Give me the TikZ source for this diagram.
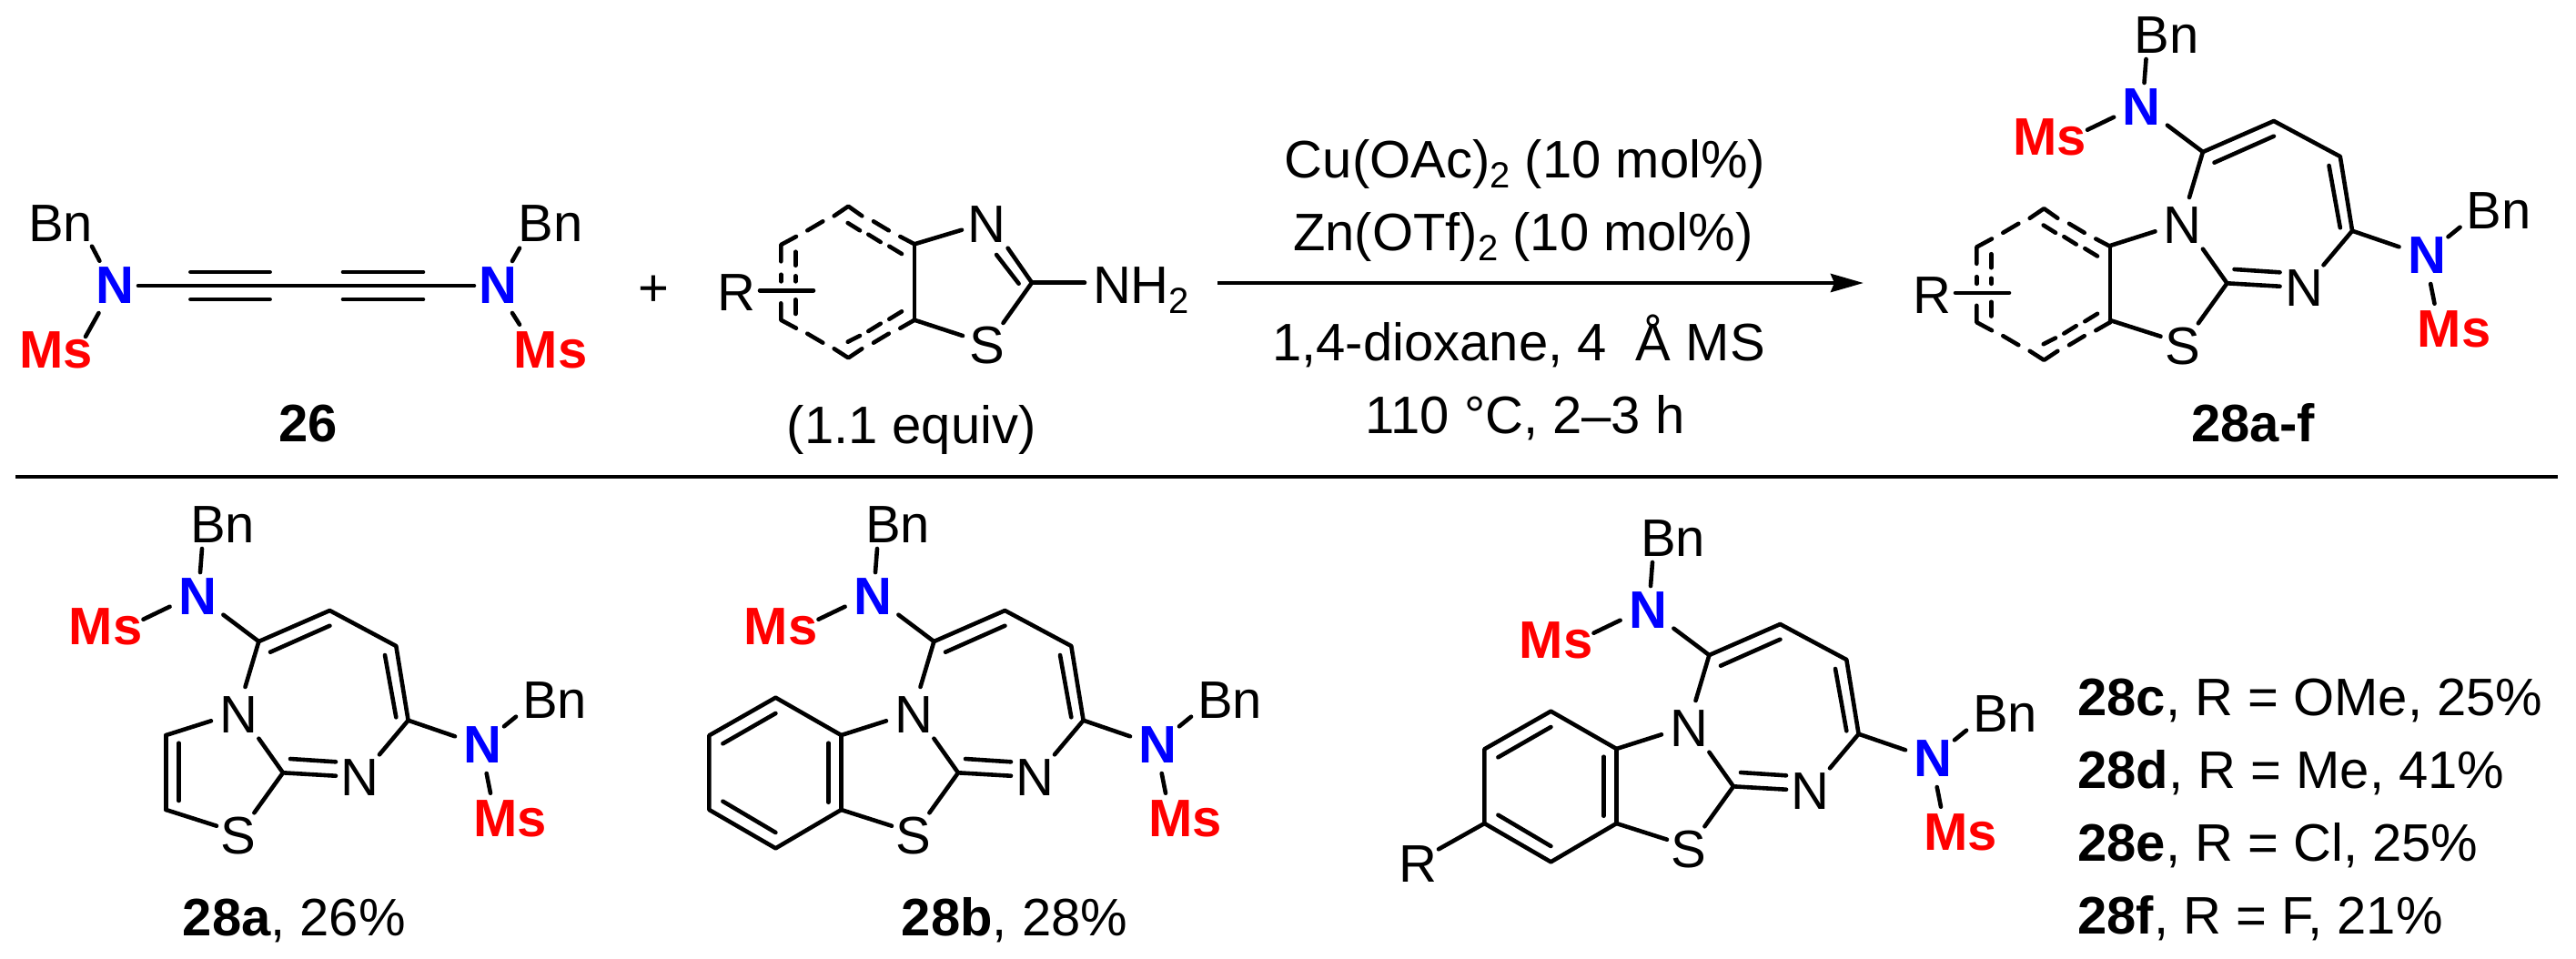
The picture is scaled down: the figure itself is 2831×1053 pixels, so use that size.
\documentclass[tikz,border=0pt]{standalone}
\usepackage{fontspec}
\setmainfont{Liberation Sans}
\usetikzlibrary{arrows.meta}
\definecolor{nblue}{RGB}{0,0,255}
\definecolor{msred}{RGB}{255,0,0}
\newcommand\subs[1]{\raisebox{-11pt}{\fontsize{40}{40}\selectfont #1}}
% bond between two named atoms, each end given as an offset from the atom centre
\newcommand\bd[4]{\draw[bond] ([shift={(#2)}]#1.center) -- ([shift={(#4)}]#3.center);}
% common part of the thiazolo-diazepine (28a frame)
\newcommand\core[3]{%
\begin{scope}[shift={(#2,#3)},name prefix=#1-]
\node[atom] (Bn1) at (244.6,576.7) {Bn};
\node[atomN] (N1) at (217,655.7) {N};
\node[atomMs] (Ms1) at (116,688.7) {Ms};
\coordinate (C5) at (284.4,705);
\coordinate (C6) at (362.4,671);
\coordinate (C7) at (435.3,710);
\coordinate (C8) at (448.6,791.7);
\node[atomN] (N2) at (530.7,819) {N};
\node[atom] (Bn2) at (609.5,769.3) {Bn};
\node[atomMs] (Ms2) at (560.5,900) {Ms};
\node[atom] (Nr) at (262,785.3) {N};
\node[atom] (S) at (262,918.3) {S};
\node[atom] (Ni) at (395.5,855) {N};
\coordinate (C2) at (311,849.3);
\coordinate (C2b) at (319,834);
\coordinate (Ca) at (182.5,808);
\coordinate (Cb) at (182.5,890);
\coordinate (i1a) at (297,716.7);
\coordinate (i1b) at (362.4,687.7);
\coordinate (i2a) at (423,720);
\coordinate (i2b) at (435.3,788.3);
\bd{Bn1}{-22.6,26.3}{N1}{3,-26.7}
\bd{Ms1}{41.5,-8}{N1}{-30.4,11}
\draw[bond] ([shift={(28.4,20)}]N1.center) -- (C5) -- (C6) -- (C7) -- (C8) -- ([shift={(-30.7,-9.7)}]N2.center);
\draw[bond] (i1a) -- (i1b);
\draw[bond] (i2a) -- (i2b);
\bd{N2}{23.3,-20.7}{Bn2}{-42.5,18.4}
\bd{N2}{4,31}{Ms2}{-21.5,-28.3}
\draw[bond] (C5) -- ([shift={(7.5,-30.3)}]Nr.center);
\draw[bond] ([shift={(-30,7)}]Nr.center) -- (Ca);
\draw[bond] ([shift={(22.4,26.4)}]Nr.center) -- (C2) -- ([shift={(-26.5,-2.3)}]Ni.center);
\draw[bond] (C2b) -- ([shift={(-26.5,-17.7)}]Ni.center);
\draw[bond] (Cb) -- ([shift={(-24,-10.6)}]S.center);
\draw[bond] ([shift={(17.4,-25)}]S.center) -- (C2);
\draw[bond] ([shift={(21.5,-25.7)}]Ni.center) -- (C8);
\end{scope}}
% fused benzene ring, solid
\newcommand\benz[3]{%
\begin{scope}[shift={(#2,#3)},name prefix=#1-]
\coordinate (Bt) at (110.4,766.7);
\coordinate (Bb) at (110.4,932.3);
\coordinate (Bl) at (37.4,890);
\coordinate (Bu) at (37.4,808.3);
\coordinate (Ca) at (182.5,808);
\coordinate (Cb) at (182.5,890);
\coordinate (b1a) at (168.4,816.7);
\coordinate (b1b) at (168.4,881.7);
\coordinate (b2a) at (52.4,817.3);
\coordinate (b2b) at (110.4,784);
\coordinate (b3a) at (52.4,880.7);
\coordinate (b3b) at (110.4,915);
\draw[bond] (Ca) -- (Bt) -- (Bu) -- (Bl) -- (Bb) -- (Cb) -- cycle;
\draw[bond] (b1a) -- (b1b);
\draw[bond] (b2a) -- (b2b);
\draw[bond] (b3a) -- (b3b);
\end{scope}}
% dashed (variable aromatic) ring with R substituent
\newcommand\dashring[3]{%
\begin{scope}[shift={(#2,#3)},name prefix=#1-]
\node[atom] (R) at (809,321.7) {R};
\coordinate (Rend) at (894,319.3);
\coordinate (UR) at (1005,268.3);
\coordinate (LR) at (1005,351.7);
\draw[bond] ([shift={(26,-2.4)}]R.center) -- (Rend);
\draw[bond] (UR) -- (LR);
\draw[bond] (916.7,237.3) -- (932.3,226.7) -- (947.3,237.3);
\draw[bond] (887.3,253.3) -- (904.3,243.3);
\draw[bond] (875,260) -- (858.3,269) -- (858.3,287.3);
\draw[bond] (858.3,301.7) -- (858.3,309.3);
\draw[bond] (858.3,333.3) -- (858.3,351.7) -- (875,360.7);
\draw[bond] (874.3,276.7) -- (874.3,291.7);
\draw[bond] (874.3,303.3) -- (874.3,309.3);
\draw[bond] (874.3,329.3) -- (874.3,345);
\draw[bond] (960,243.3) -- (976.7,253.3);
\draw[bond] (989.3,260) -- (UR);
\draw[bond] (931.7,245) -- (945,253.3);
\draw[bond] (954.3,257.7) -- (967.7,266);
\draw[bond] (977.3,270.7) -- (991,279);
\draw[bond] (LR) -- (989.3,360.7);
\draw[bond] (976.7,366.7) -- (960,376.7);
\draw[bond] (947.3,383.3) -- (932.3,393.3) -- (916.7,383.3);
\draw[bond] (904.3,376.7) -- (887.3,366.7);
\draw[bond] (991,342.3) -- (977.3,350.7);
\draw[bond] (967.7,355.7) -- (954.3,364);
\draw[bond] (945,369) -- (931.7,375.7);
\end{scope}}
\tikzset{
  every node/.style={font=\fontsize{58}{60}\selectfont,inner sep=0pt,outer sep=0pt},
  bond/.style={line width=4.6pt,line cap=round,line join=round},
  atom/.style={anchor=center},
  atomN/.style={anchor=center,text=nblue,font=\fontsize{58}{60}\selectfont\bfseries},
  atomMs/.style={anchor=center,text=msred,font=\fontsize{58}{60}\selectfont\bfseries},
  lab/.style={anchor=base},
  labw/.style={anchor=base west},
  rulebar/.style={line width=4.7pt},
  arrowline/.style={line width=4.7pt,-{Stealth[length=36pt,width=20pt,inset=4pt]}}
}
\begin{document}
\begin{tikzpicture}[x=1pt,y=-1pt]
\fill[white] (0,0) rectangle (2831,1053);
\useasboundingbox (0,0) rectangle (2831,1053);

% reactant 26
\node[atomN] (aN) at (126.5,314) {N};
\node[atomN] (bN) at (547,314) {N};
\node[atom] (aBn) at (66.7,245.7) {Bn};
\node[atom] (bBn) at (605,245.7) {Bn};
\node[atomMs] (aMs) at (61.5,385) {Ms};
\node[atomMs] (bMs) at (605,385) {Ms};
\bd{aBn}{34.3,25}{aN}{-17.1,-27.3}
\bd{aMs}{32.5,-15}{aN}{-18,30}
\bd{bBn}{-34,27}{bN}{16,-27}
\bd{bMs}{-34,-28.3}{bN}{16,30}
\bd{aN}{25.5,0}{bN}{-26,0}
\coordinate (t1a) at (209.4,314);
\coordinate (t1b) at (296.6,314);
\coordinate (t2a) at (377,314);
\coordinate (t2b) at (465,314);
\draw[bond] ([shift={(0,-15)}]t1a) -- ([shift={(0,-15)}]t1b);
\draw[bond] ([shift={(0,15)}]t1a) -- ([shift={(0,15)}]t1b);
\draw[bond] ([shift={(0,-15)}]t2a) -- ([shift={(0,-15)}]t2b);
\draw[bond] ([shift={(0,15)}]t2a) -- ([shift={(0,15)}]t2b);
\node[lab] (l26) at (339,485) {\textbf{26}};
\node[lab] (plus) at (718,336) {+};

% reactant aminobenzothiazole
\dashring{r}{0}{0}
\node[atom] (rN) at (1084.6,246.7) {N};
\node[atom] (rS) at (1085,380) {S};
\coordinate (rC2) at (1134,310.7);
\coordinate (rC2i) at (1119.6,311.7);
\node[labw] (rNH) at (1201,333) {NH\subs{2}};
\draw[bond] (r-UR) -- ([shift={(-27.6,6)}]rN.center);
\draw[bond] (r-LR) -- ([shift={(-27,-11)}]rS.center);
\draw[bond] ([shift={(23,26)}]rN.center) -- (rC2);
\draw[bond] ([shift={(10.5,33.3)}]rN.center) -- (rC2i);
\draw[bond] ([shift={(17.5,-25)}]rS.center) -- (rC2);
\draw[bond] (rC2) -- ([shift={(-9,-22.3)}]rNH.base west);
\node[lab] (equiv) at (1001.7,487) {(1.1 equiv)};

% arrow and conditions
\coordinate (arrS) at (1338,311);
\coordinate (arrE) at (2048,311);
\draw[arrowline] (arrS) -- (arrE);
\node[lab] (cond1) at (1676,195) {Cu(OAc)\subs{2} (10 mol\%)};
\node[lab] (cond2) at (1674,275) {Zn(OTf)\subs{2} (10 mol\%)};
\node[lab] (cond3) at (1669,396.7) {1,4-dioxane, 4\ \ Å MS};
\node[lab] (cond4) at (1676,476.7) {110 °C, 2–3 h};

% product 28a-f
\core{p}{2136.5}{-538}
\dashring{q}{1314}{2.5}
\node[lab] (l28) at (2476,485) {\textbf{28a-f}};

% rule
\coordinate (ruleL) at (17,524);
\coordinate (ruleR) at (2810.5,524);
\draw[rulebar] (ruleL) -- (ruleR);

% 28a
\core{a}{0}{0}
\draw[bond] (a-Ca) -- (a-Cb);
\coordinate (ain1) at (196.5,816.7);
\coordinate (ain2) at (196.5,880);
\draw[bond] (ain1) -- (ain2);
\node[lab] (l28a) at (323.3,1028) {\textbf{28a}, 26\%};

% 28b
\core{b}{742}{0}
\benz{bz}{742}{0}
\node[lab] (l28b) at (1115,1028) {\textbf{28b}, 28\%};

% 28c-f
\core{c}{1594}{15}
\benz{cz}{1594}{15}
\node[atom] (cR) at (1558.8,949.3) {R};
\draw[bond] (cz-Bl) -- ([shift={(22.2,-16)}]cR.center);
\node[labw] (l28c) at (2283.4,786) {\textbf{28c}, R = OMe, 25\%};
\node[labw] (l28d) at (2283.4,866) {\textbf{28d}, R = Me, 41\%};
\node[labw] (l28e) at (2283.4,946.7) {\textbf{28e}, R = Cl, 25\%};
\node[labw] (l28f) at (2283.4,1026.7) {\textbf{28f}, R = F, 21\%};
\end{tikzpicture}
\end{document}
